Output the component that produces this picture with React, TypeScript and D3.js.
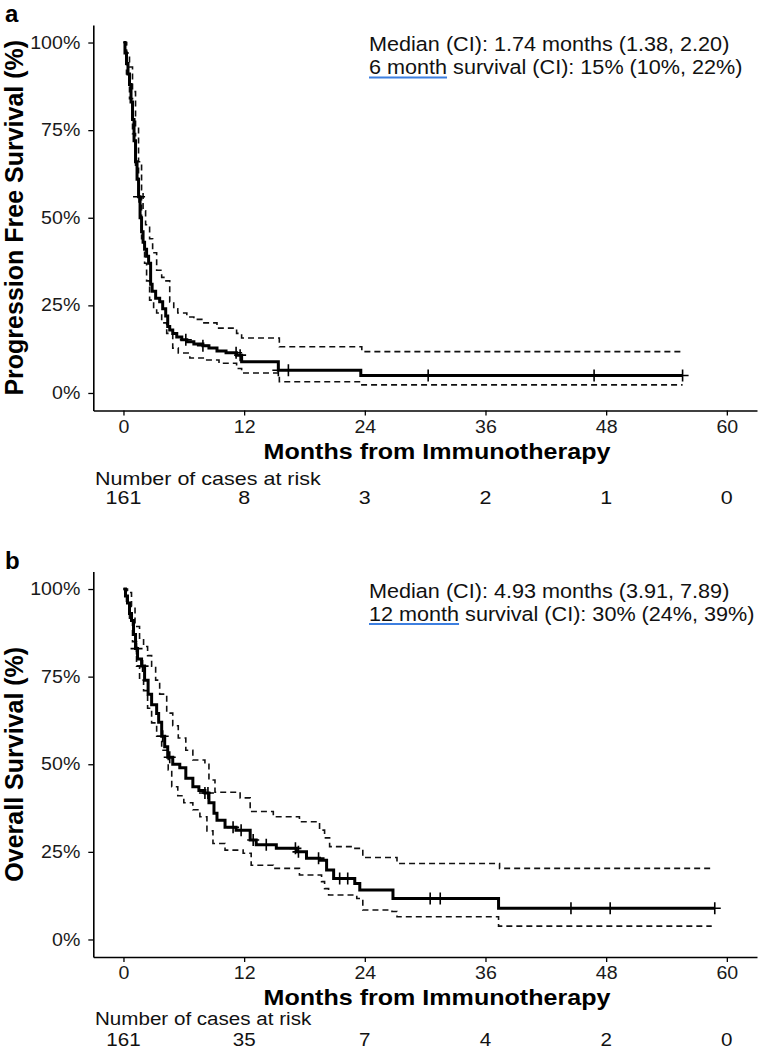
import * as React from "react";
import * as d3 from "d3";

// ---- data ----
// a: progression free survival
const pfsTime = [0, 0.15, 0.3, 0.45, 0.6, 0.75, 0.9, 1.05, 1.2, 1.35, 1.5, 1.65, 1.8, 1.95, 2.1, 2.3, 2.5, 2.7, 2.85, 3.2, 3.6, 3.9, 4.2, 4.4, 4.6, 4.9, 5.3, 5.8, 6.3, 7.0, 7.9, 8.5, 9.3, 10.2, 11.25, 11.75, 15.4, 23.6, 55.6];
const pfsSurv = [1.0, 0.97, 0.94, 0.91, 0.88, 0.83, 0.78, 0.72, 0.66, 0.61, 0.56, 0.5, 0.46, 0.43, 0.41, 0.39, 0.37, 0.31, 0.29, 0.27, 0.26, 0.24, 0.22, 0.19, 0.18, 0.17, 0.16, 0.152, 0.146, 0.14, 0.135, 0.128, 0.12, 0.115, 0.108, 0.089, 0.065, 0.05, 0.05];
const pfsUpperTime = [0, 0.3, 0.6, 0.9, 1.2, 1.5, 1.8, 1.95, 2.2, 2.6, 2.9, 3.3, 3.8, 4.1, 4.6, 5.0, 5.4, 6.3, 7.0, 7.9, 9.3, 11.25, 11.75, 15.5, 23.7, 55.6];
const pfsUpper = [1.0, 0.97, 0.93, 0.86, 0.76, 0.66, 0.58, 0.52, 0.48, 0.44, 0.4, 0.35, 0.33, 0.32, 0.26, 0.24, 0.228, 0.217, 0.21, 0.2, 0.185, 0.17, 0.157, 0.132, 0.118, 0.118];
const pfsLowerTime = [0, 0.3, 0.6, 0.9, 1.2, 1.5, 1.8, 2.1, 2.3, 2.6, 3.0, 3.3, 3.8, 4.3, 4.9, 5.45, 6.6, 8.2, 9.5, 11.25, 11.75, 15.5, 23.6, 55.6];
const pfsLower = [1.0, 0.91, 0.84, 0.74, 0.65, 0.56, 0.44, 0.37, 0.32, 0.265, 0.24, 0.228, 0.2, 0.17, 0.128, 0.114, 0.1, 0.094, 0.085, 0.07, 0.057, 0.032, 0.023, 0.023];
const pfsCensor = [1.55, 6.2, 7.9, 11.2, 11.6, 15.4, 16.4, 30.3, 46.8, 55.6];

// b: overall survival
const osTime = [0, 0.2, 0.4, 0.6, 0.8, 1.0, 1.2, 1.4, 1.8, 2.1, 2.45, 2.8, 3.3, 3.5, 3.8, 4.1, 4.4, 4.9, 5.6, 6.2, 6.9, 7.5, 8.1, 8.5, 9.0, 9.3, 10.1, 11.2, 12.6, 13.2, 15.2, 17.2, 18.2, 19.5, 20.2, 20.9, 23.0, 23.5, 26.8, 37.3, 58.8];
const osSurv = [1.0, 0.98, 0.96, 0.93, 0.91, 0.87, 0.83, 0.8, 0.78, 0.74, 0.7, 0.67, 0.645, 0.62, 0.58, 0.55, 0.52, 0.5, 0.49, 0.46, 0.436, 0.425, 0.418, 0.39, 0.36, 0.34, 0.32, 0.312, 0.284, 0.27, 0.26, 0.25, 0.232, 0.226, 0.198, 0.174, 0.16, 0.141, 0.117, 0.089, 0.089];
const osUpperTime = [0, 0.4, 0.8, 1.15, 1.6, 2.0, 2.4, 2.8, 3.2, 3.6, 4.3, 4.9, 5.45, 6.2, 6.9, 8.1, 8.5, 9.1, 11.6, 12.6, 14.9, 17.5, 19.5, 20.0, 20.5, 22.8, 23.8, 27.2, 37.4, 58.5];
const osUpper = [1.0, 0.99, 0.95, 0.893, 0.86, 0.836, 0.81, 0.78, 0.74, 0.7, 0.646, 0.61, 0.575, 0.54, 0.512, 0.5, 0.455, 0.42, 0.404, 0.365, 0.35, 0.336, 0.312, 0.29, 0.265, 0.26, 0.234, 0.217, 0.203, 0.203];
const osLowerTime = [0, 0.3, 0.6, 0.9, 1.3, 1.6, 2.0, 2.4, 2.8, 3.3, 3.8, 4.45, 4.8, 5.4, 6.0, 6.9, 7.6, 8.3, 8.9, 10.1, 11.9, 12.7, 14.9, 17.5, 19.7, 20.0, 20.4, 23.2, 23.8, 26.7, 27.2, 37.3, 58.5];
const osLower = [1.0, 0.96, 0.91, 0.85, 0.78, 0.74, 0.71, 0.66, 0.618, 0.58, 0.54, 0.484, 0.436, 0.41, 0.39, 0.37, 0.35, 0.31, 0.274, 0.255, 0.246, 0.212, 0.203, 0.184, 0.165, 0.145, 0.127, 0.117, 0.084, 0.08, 0.065, 0.038, 0.038];
const osCensor = [1.3, 1.9, 3.9, 4.6, 8.1, 8.4, 10.9, 11.7, 12.9, 14.2, 17.1, 17.4, 19.4, 21.5, 22.3, 30.5, 31.5, 44.5, 48.4, 58.8];

const riskTimes = [0, 12, 24, 36, 48, 60];
const pfsRisk = [161, 8, 3, 2, 1, 0];
const osRisk = [161, 35, 7, 4, 2, 0];
const xTicks = [0, 12, 24, 36, 48, 60];
const yTicks = [0, 0.25, 0.5, 0.75, 1];

const FONT = "'Liberation Sans', Arial, Helvetica, sans-serif";
const SX = 1.12; // the reference text is a little wide

const measure = (txt: string, size: number) => {
  const ctx = document.createElement("canvas").getContext("2d");
  if (!ctx) return txt.length * size * 0.5;
  ctx.font = `${size}px ${FONT}`;
  return ctx.measureText(txt).width;
};

interface PanelProps {
  label: string;
  yTitle: string;
  time: number[];
  surv: number[];
  upT: number[];
  up: number[];
  loT: number[];
  lo: number[];
  censor: number[];
  risk: number[];
  median: string;
  survLabel: string;
  survRest: string;
  offset: number;
  riskLabelY: number;
  riskY: number;
  riskSize: number;
}

const Panel: React.FC<PanelProps> = (p) => {
  const gx = React.useRef<SVGGElement>(null);
  const gy = React.useRef<SVGGElement>(null);

  const left = 93.3, right = 757, top = 25, bottom = 410.5;
  const x = d3.scaleLinear().domain([-3, 63]).range([left, right]);
  const y = d3.scaleLinear().domain([-0.05, 1.05]).range([bottom, top]);

  const line = d3
    .line<[number, number]>()
    .x((d) => x(d[0]))
    .y((d) => y(d[1]))
    .curve(d3.curveStepAfter);

  const zip = (a: number[], b: number[]) => a.map((v, i) => [v, b[i]] as [number, number]);
  const at = (t: number) => p.surv[Math.max(0, d3.bisectRight(p.time, t) - 1)];

  React.useEffect(() => {
    if (gx.current) {
      const g = d3.select(gx.current);
      g.call(d3.axisBottom(x).tickValues(xTicks).tickSize(5).tickPadding(5).tickSizeOuter(0));
      g.select(".domain").attr("stroke", "#000").attr("stroke-width", 1.6);
      g.selectAll(".tick line").attr("stroke", "#000").attr("stroke-width", 1.3);
      g.selectAll(".tick text")
        .attr("font-size", 17.5)
        .attr("font-family", FONT)
        .attr("fill", "#1a1a1a")
        .attr("transform", `scale(${SX},1)`);
    }
    if (gy.current) {
      const g = d3.select(gy.current);
      g.call(
        d3.axisLeft(y).tickValues(yTicks).tickSize(5).tickPadding(8).tickSizeOuter(0)
          .tickFormat((d) => `${Math.round(+d * 100)}%`)
      );
      g.select(".domain").attr("stroke", "#000").attr("stroke-width", 1.6);
      g.selectAll(".tick line").attr("stroke", "#000").attr("stroke-width", 1.3);
      g.selectAll(".tick text")
        .attr("font-size", 17.5)
        .attr("font-family", FONT)
        .attr("fill", "#1a1a1a")
        .attr("x", -13 / SX)
        .attr("transform", `scale(${SX},1)`);
    }
  });

  const annSize = 19.3;
  const ulWidth = measure(p.survLabel, annSize) * SX;

  return (
    <g transform={`translate(0,${p.offset})`}>
      <text x={5} y={22} fontSize={24} fontWeight="bold" fontFamily={FONT}>{p.label}</text>
      <text
        transform={`translate(23,${(top + bottom) / 2}) rotate(-90)`}
        textAnchor="middle"
        fontSize={25}
        fontWeight="bold"
        fontFamily={FONT}
      >
        {p.yTitle}
      </text>
      <path d={line(zip(p.upT, p.up)) || undefined} fill="none" stroke="#111" strokeWidth={1.6} strokeDasharray="6,4" />
      <path d={line(zip(p.loT, p.lo)) || undefined} fill="none" stroke="#111" strokeWidth={1.6} strokeDasharray="6,4" />
      <path d={line(zip(p.time, p.surv)) || undefined} fill="none" stroke="#000" strokeWidth={3} />
      <g stroke="#000" strokeWidth={1.6}>
        {p.censor.map((t, i) => (
          <path key={i} d={`M${x(t) - 6},${y(at(t))}h12M${x(t)},${y(at(t)) - 6}v12`} />
        ))}
      </g>
      <g ref={gx} transform={`translate(0,${bottom})`} />
      <g ref={gy} transform={`translate(${left},0)`} />
      <text
        transform={`translate(437,458.5) scale(${SX},1)`}
        textAnchor="middle"
        fontSize={22.4}
        fontWeight="bold"
        fontFamily={FONT}
      >
        Months from Immunotherapy
      </text>
      <text transform={`translate(95,${p.riskLabelY}) scale(${SX},1)`} fontSize={p.riskSize} fontFamily={FONT} fill="#111">
        Number of cases at risk
      </text>
      {riskTimes.map((t, i) => (
        <text
          key={t}
          transform={`translate(${x(t)},${p.riskY}) scale(${SX},1)`}
          textAnchor="middle"
          fontSize={p.riskSize}
          fontFamily={FONT}
          fill="#111"
        >
          {p.risk[i]}
        </text>
      ))}
      <text transform={`translate(369,51) scale(${SX},1)`} fontSize={annSize} fontFamily={FONT} fill="#111">
        {p.median}
      </text>
      <text transform={`translate(369,74) scale(${SX},1)`} fontSize={annSize} fontFamily={FONT} fill="#111">
        {p.survLabel + p.survRest}
      </text>
      <line x1={369} x2={369 + ulWidth} y1={77.5} y2={77.5} stroke="#3d7fe0" strokeWidth={1.8} />
    </g>
  );
};

export default function App() {
  return (
    <div style={{ position: "absolute", left: 0, top: 0 }}>
      <svg width={758} height={1050} style={{ display: "block", background: "#fff" }}>
        <Panel
          label="a"
          yTitle="Progression Free Survival (%)"
          time={pfsTime}
          surv={pfsSurv}
          upT={pfsUpperTime}
          up={pfsUpper}
          loT={pfsLowerTime}
          lo={pfsLower}
          censor={pfsCensor}
          risk={pfsRisk}
          median="Median (CI): 1.74 months (1.38, 2.20)"
          survLabel="6 month"
          survRest=" survival (CI): 15% (10%, 22%)"
          offset={0}
          riskLabelY={485}
          riskY={504}
          riskSize={19.2}
        />
        <Panel
          label="b"
          yTitle="Overall Survival (%)"
          time={osTime}
          surv={osSurv}
          upT={osUpperTime}
          up={osUpper}
          loT={osLowerTime}
          lo={osLower}
          censor={osCensor}
          risk={osRisk}
          median="Median (CI): 4.93 months (3.91, 7.89)"
          survLabel="12 month"
          survRest=" survival (CI): 30% (24%, 39%)"
          offset={546.5}
          riskLabelY={478.5}
          riskY={499.5}
          riskSize={18.4}
        />
      </svg>
    </div>
  );
}
